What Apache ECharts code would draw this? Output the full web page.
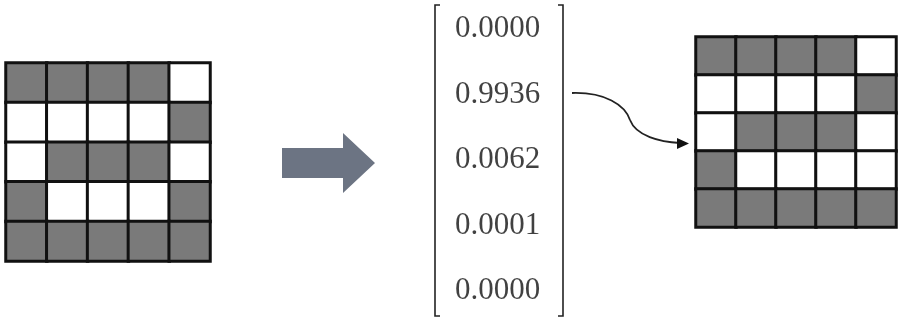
<!DOCTYPE html>
<html>
<head>
<meta charset="utf-8">
<script src="https://cdn.jsdelivr.net/npm/echarts@6/dist/echarts.min.js"></script>
<style>html,body{margin:0;padding:0;background:#fff;}#c{width:900px;height:320px;}</style>
</head>
<body>
<div id="c"></div>
<script>
const gridCols = ['0', '1', '2', '3', '4'];
const gridRows = ['0', '1', '2', '3', '4'];
// 1 = grey cell, 0 = white cell
const inputPattern = [
  [1, 1, 1, 1, 0],
  [0, 0, 0, 0, 1],
  [0, 1, 1, 1, 0],
  [1, 0, 0, 0, 1],
  [1, 1, 1, 1, 1]
];
const outputPattern = [
  [1, 1, 1, 1, 0],
  [0, 0, 0, 0, 1],
  [0, 1, 1, 1, 0],
  [1, 0, 0, 0, 0],
  [1, 1, 1, 1, 1]
];
const probabilities = [0.0000, 0.9936, 0.0062, 0.0001, 0.0000];

function toCells(p) {
  const out = [];
  p.forEach((row, r) => row.forEach((v, c) => out.push([c, r, v])));
  return out;
}

const chart = echarts.init(document.getElementById('c'), null, {renderer: 'canvas'});
const hidden = {show: false};
const catAxis = (gi, data, inv) => ({
  type: 'category', gridIndex: gi, data: data, inverse: inv,
  axisLine: hidden, axisTick: hidden, axisLabel: hidden, splitLine: hidden
});
chart.setOption({
  animation: false,
  backgroundColor: '#fff',
  grid: [
    {left: 6, top: 63, width: 204, height: 198},
    {left: 696, top: 37, width: 200, height: 190},
    {left: 455, top: 29, width: 85, height: 262}
  ],
  xAxis: [
    catAxis(0, gridCols, false),
    catAxis(1, gridCols, false),
    {type: 'value', gridIndex: 2, min: 0, max: 1, show: false}
  ],
  yAxis: [
    catAxis(0, gridRows, true),
    catAxis(1, gridRows, true),
    {type: 'value', gridIndex: 2, min: 0, max: probabilities.length - 1, inverse: true, show: false}
  ],
  visualMap: {
    type: 'piecewise', show: false, seriesIndex: [0, 1], dimension: 2,
    pieces: [{value: 0, color: '#ffffff'}, {value: 1, color: '#7a7a7a'}]
  },
  series: [
    {type: 'heatmap', xAxisIndex: 0, yAxisIndex: 0, data: toCells(inputPattern),
     itemStyle: {borderColor: '#111', borderWidth: 3}, emphasis: {disabled: true}},
    {type: 'heatmap', xAxisIndex: 1, yAxisIndex: 1, data: toCells(outputPattern),
     itemStyle: {borderColor: '#111', borderWidth: 3}, emphasis: {disabled: true}},
    {type: 'scatter', xAxisIndex: 2, yAxisIndex: 2, symbolSize: 0,
     data: probabilities.map((v, i) => [0.5, i, v]),
     label: {show: true, position: 'inside', formatter: p => p.value[2].toFixed(4),
       fontFamily: 'Liberation Serif', fontSize: 31, color: '#111'}}
  ],
  graphic: [
    {type: 'polyline', shape: {points: [[440, 5], [435, 5], [435, 316], [440, 316]]},
     style: {stroke: '#222', lineWidth: 1.6, fill: null}},
    {type: 'polyline', shape: {points: [[558, 5], [563, 5], [563, 316], [558, 316]]},
     style: {stroke: '#222', lineWidth: 1.6, fill: null}},
    {type: 'polygon', shape: {points: [[282, 148], [343, 148], [343, 133], [375, 163], [343, 193], [343, 178], [282, 178]]},
     style: {fill: '#6c7483'}},
    {type: 'bezierCurve', shape: {x1: 572, y1: 93, cpx1: 605, cpy1: 92, cpx2: 625, cpy2: 105, x2: 630, y2: 120},
     style: {stroke: '#222', lineWidth: 1.8, fill: null}},
    {type: 'bezierCurve', shape: {x1: 630, y1: 120, cpx1: 636, cpy1: 136, cpx2: 660, cpy2: 142, x2: 680, y2: 143},
     style: {stroke: '#222', lineWidth: 1.8, fill: null}},
    {type: 'polygon', shape: {points: [[689, 143.5], [677, 138], [677, 149]]},
     style: {fill: '#111'}}
  ]
});
</script>
</body>
</html>
